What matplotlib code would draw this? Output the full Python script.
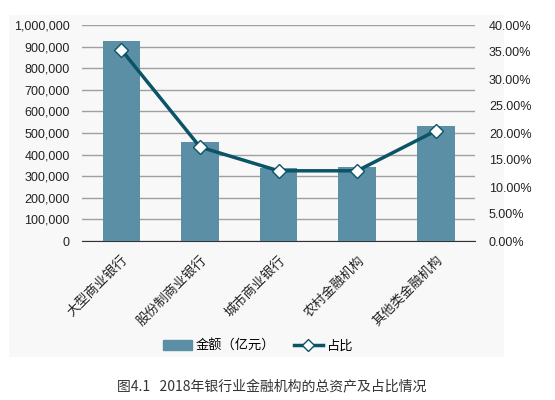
import matplotlib
matplotlib.use("Agg")
import matplotlib.pyplot as plt
from matplotlib.patches import Rectangle
from matplotlib.lines import Line2D
from matplotlib.ticker import FuncFormatter

plt.rcParams['font.family'] = ['Liberation Sans', 'Noto Sans CJK SC', 'DejaVu Sans']

# data
categories = ["大型商业银行", "股份制商业银行", "城市商业银行", "农村金融机构", "其他类金融机构"]
amounts = [926000, 458000, 338000, 343000, 532000]
shares = [35.4, 17.4, 13.0, 13.0, 20.4]

BAR_COLOR = "#5b8fa6"
LINE_COLOR = "#0b5468"

fig = plt.figure(figsize=(5.55, 4), dpi=100)
fig.patches.append(Rectangle((9 / 555, 43 / 400), 495 / 555, 342 / 400,
                             transform=fig.transFigure, facecolor="#f8f8f8",
                             edgecolor="none", zorder=-5))

ax = fig.add_axes([0.148, 0.3975, 0.708, 0.54])
ax.set_facecolor("none")
x = range(len(categories))
ax.bar(x, amounts, width=0.48, color=BAR_COLOR, zorder=3)
ax.set_ylim(0, 1000000)
ax.set_xlim(-0.5, len(categories) - 0.5)
ax.set_yticks(range(0, 1000001, 100000))
ax.yaxis.set_major_formatter(FuncFormatter(lambda v, p: f"{int(v):,}"))
ax.grid(axis="y", color="#a0a0a0", linewidth=1, zorder=0)
ax.set_axisbelow(True)
for s in ["top", "right", "left"]:
    ax.spines[s].set_visible(False)
ax.spines["bottom"].set_color("#333333")
ax.tick_params(axis="y", length=0, labelsize=9, pad=9, colors="#222222")
ax.tick_params(axis="x", length=0, pad=9)
ax.set_xticks(list(x))
ax.set_xticklabels(categories, rotation=45, ha="right", rotation_mode="anchor",
                   fontsize=9.5, family=["Noto Sans CJK SC"], color="#222222")

ax2 = ax.twinx()
ax2.plot(x, shares, color=LINE_COLOR, linewidth=2.5, marker="D", markersize=7,
         markerfacecolor="white", markeredgecolor=LINE_COLOR, markeredgewidth=1, zorder=5)
ax2.set_ylim(0, 40)
ax2.set_yticks(range(0, 41, 5))
ax2.yaxis.set_major_formatter(FuncFormatter(lambda v, p: f"{v:.2f}%"))
ax2.tick_params(axis="y", length=0, labelsize=9, pad=10, colors="#222222")
for s in ["top", "right", "left", "bottom"]:
    ax2.spines[s].set_visible(False)

handles = [Rectangle((0, 0), 1, 1, color=BAR_COLOR),
           Line2D([0], [0], color=LINE_COLOR, linewidth=2.5, marker="D", markersize=6,
                  markerfacecolor="white", markeredgecolor=LINE_COLOR)]
fig.legend(handles, ["金额（亿元）", "占比"], loc="center", bbox_to_anchor=(258 / 555, 1 - 346 / 400),
           ncol=2, frameon=False, prop={"family": ["Noto Sans CJK SC"], "size": 9.5},
           handlelength=2.2, columnspacing=1.4, handletextpad=0.3)

fig.text(0.49, 1 - 386 / 400, "图4.1   2018年银行业金融机构的总资产及占比情况", ha="center", va="center",
         fontsize=10, family=["Noto Sans CJK SC"], color="#333333", fontweight="light")

fig.savefig("out.png", dpi=100)
